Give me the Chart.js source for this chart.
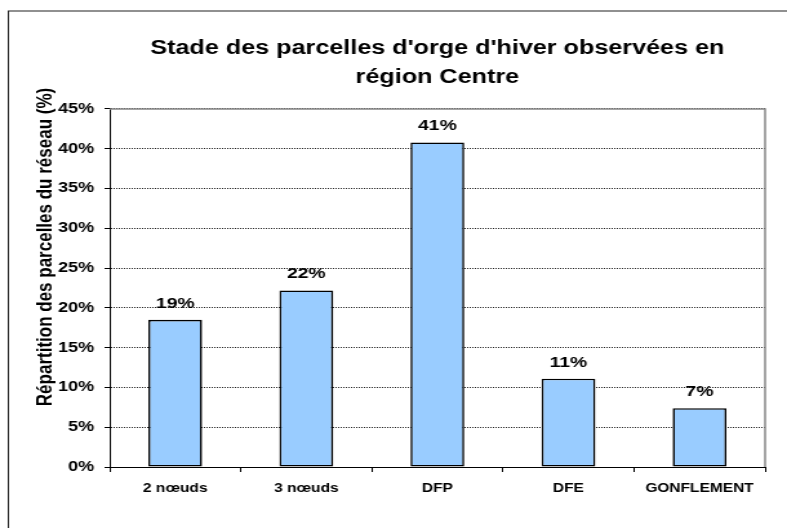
<!DOCTYPE html>
<html><head><meta charset="utf-8">
<script src="https://cdn.jsdelivr.net/npm/chart.js@4/dist/chart.umd.min.js"></script>
<style>html,body{margin:0;padding:0;background:#fff;overflow:hidden}
#c{display:block}</style></head>
<body><canvas id="c" width="610" height="528" style="width:787px;height:528px"></canvas>
<script>
const categories = ['2 nœuds', '3 nœuds', 'DFP', 'DFE', 'GONFLEMENT'];
const values = [18.5, 22.2, 40.8, 11.1, 7.4];
const valueLabels = ['19%', '22%', '41%', '11%', '7%'];
const titleLines = ["Stade des parcelles d'orge d'hiver observées en", 'région Centre'];
const yAxisTitle = 'Répartition des parcelles du réseau (%)';
const yMin = 0, yMax = 45, yStep = 5;

const FONT = "'Liberation Sans', Arial, sans-serif";

const framePlugin = {
  id: 'frame',
  beforeDraw(chart) {
    const ctx = chart.ctx;
    ctx.save();
    ctx.fillStyle = '#fff';
    ctx.fillRect(0, 0, chart.width, chart.height);
    ctx.strokeStyle = '#222';
    ctx.lineWidth = 1;
    ctx.strokeRect(6.5, 11, 2000, 2000);
    ctx.restore();
  },
  afterDraw(chart) {
    const ctx = chart.ctx;
    const a = chart.chartArea;
    ctx.save();
    ctx.strokeStyle = '#888';
    ctx.lineWidth = 1.5;
    ctx.beginPath();
    ctx.moveTo(a.left, a.top);
    ctx.lineTo(a.right, a.top);
    ctx.lineTo(a.right, a.bottom);
    ctx.stroke();
    // y axis title
    ctx.fillStyle = '#000';
    ctx.font = 'bold 17px ' + FONT;
    ctx.textAlign = 'center';
    ctx.textBaseline = 'middle';
    ctx.translate(35, 247);
    ctx.rotate(-Math.PI / 2);
    ctx.fillText(yAxisTitle, 0, 0);
    ctx.restore();
  },
  afterDatasetsDraw(chart) {
    const ctx = chart.ctx;
    const meta = chart.getDatasetMeta(0);
    ctx.save();
    ctx.fillStyle = '#000';
    ctx.font = 'bold 15px ' + FONT;
    ctx.textAlign = 'center';
    ctx.textBaseline = 'alphabetic';
    meta.data.forEach((bar, i) => {
      ctx.fillText(valueLabels[i], bar.x, bar.y - 12);
    });
    ctx.restore();
  }
};

const chart = new Chart(document.getElementById('c'), {
  type: 'bar',
  data: {
    labels: categories,
    datasets: [{
      data: values,
      backgroundColor: '#99CCFF',
      borderColor: '#000',
      borderWidth: 1.6,
      borderSkipped: false,
      barPercentage: 0.41,
      categoryPercentage: 1
    }]
  },
  options: {
    responsive: false,
    animation: false,
    devicePixelRatio: 1,
    layout: { padding: { left: 0, right: 17, top: 0, bottom: 0 } },
    plugins: {
      legend: { display: false },
      tooltip: { enabled: false },
      title: {
        display: true,
        fullSize: false,
        text: titleLines,
        color: '#000',
        font: { family: FONT, size: 19.5, weight: 'bold', lineHeight: 1.487 },
        padding: { top: 34, bottom: 17 }
      }
    },
    scales: {
      x: {
        afterFit(s) { s.height = 61; },
        grid: { offset: true, drawOnChartArea: false, drawTicks: true, tickLength: 5, tickColor: '#000', color: '#000' },
        border: { display: true, color: '#000', width: 1 },
        ticks: { color: '#000', padding: 9, maxRotation: 0, autoSkip: false, font: { family: FONT, size: 12, weight: 'bold' } }
      },
      y: {
        min: yMin, max: yMax,
        afterFit(s) { s.width = 85; },
        grid: { color: '#222', lineWidth: 1, drawTicks: true, tickLength: 4, tickColor: '#000', tickBorderDash: [] },
        border: { display: true, color: '#000', width: 1, dash: [1, 1] },
        ticks: { stepSize: yStep, color: '#000', padding: 8, callback: v => v + '%', font: { family: FONT, size: 14, weight: 'bold' } }
      }
    }
  },
  plugins: [framePlugin]
});
chart.canvas.style.width = '787px';
chart.canvas.style.height = '528px';
</script>
</body></html>
